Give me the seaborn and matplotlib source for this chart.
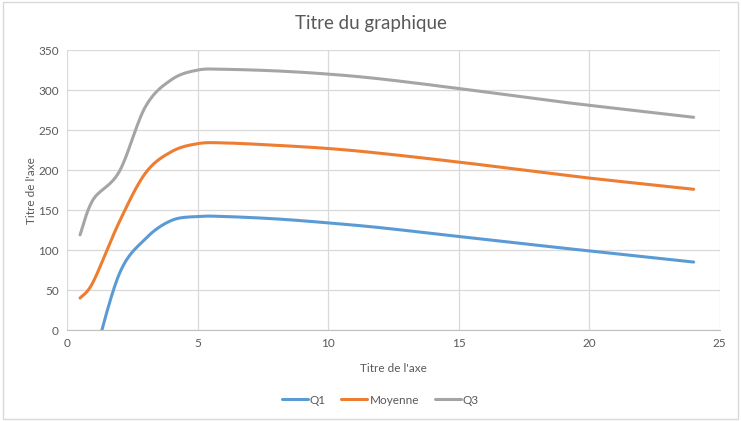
import numpy as np
import pandas as pd
import seaborn as sns
import matplotlib.pyplot as plt
from matplotlib.patches import Rectangle

## data
heures = [0.5, 1, 2, 3, 4, 5, 6, 8, 10, 12, 15, 18, 20, 24]
q1 = [None, -40, 70, 114, 137, 142, 142, 139, 134, 128, 117, 106, 99, 85]
moyenne = [40, 60, 135, 196, 223, 233, 234, 231, 227, 221, 210, 198, 190, 176]
q3 = [119, 163, 198, 279, 313, 325, 326, 324, 320, 314, 302, 289, 281, 266]

series_names = ["Q1", "Moyenne", "Q3"]
colors = ["#5B9BD5", "#ED7D31", "#A5A5A5"]


def smooth(x, y, n=30):
    # excel style smoothed line (catmull-rom bezier)
    x = np.asarray(x, float)
    y = np.asarray(y, float)
    px = np.concatenate([[x[0]], x, [x[-1]]])
    py = np.concatenate([[y[0]], y, [y[-1]]])
    xs, ys = [], []
    t = np.linspace(0, 1, n)
    for i in range(1, len(px) - 2):
        p0 = np.array([px[i], py[i]])
        p3 = np.array([px[i + 1], py[i + 1]])
        c1 = p0 + (np.array([px[i + 1], py[i + 1]]) - np.array([px[i - 1], py[i - 1]])) / 6
        c2 = p3 - (np.array([px[i + 2], py[i + 2]]) - np.array([px[i], py[i]])) / 6
        b = ((1 - t) ** 3)[:, None] * p0 + (3 * (1 - t) ** 2 * t)[:, None] * c1 \
            + (3 * (1 - t) * t ** 2)[:, None] * c2 + (t ** 3)[:, None] * p3
        xs.extend(b[:, 0])
        ys.extend(b[:, 1])
    return xs, ys


rows = []
for name, vals in zip(series_names, [q1, moyenne, q3]):
    pts = [(h, v) for h, v in zip(heures, vals) if v is not None]
    sx, sy = smooth([p[0] for p in pts], [p[1] for p in pts])
    for k, (a, b) in enumerate(zip(sx, sy)):
        rows.append({"x": a, "y": b, "serie": name, "ordre": k})
df = pd.DataFrame(rows)

sns.set_style("white")
plt.rcParams['font.family'] = ['Lato', 'DejaVu Sans']

fig = plt.figure(figsize=(7.41, 4.21), dpi=100)
ax = fig.add_axes([0.0904, 0.216, 0.881, 0.665])

sns.lineplot(data=df, x="x", y="y", hue="serie", hue_order=series_names,
             palette=colors, sort=False, estimator=None, units="serie",
             linewidth=2.2, ax=ax)

ax.set_xlim(0, 25)
ax.set_ylim(0, 350)
ax.set_xticks(range(0, 26, 5))
ax.set_yticks(range(0, 351, 50))
ax.grid(True, color="#D9D9D9", linewidth=0.9)
ax.set_axisbelow(True)
for s in ["top", "right", "left"]:
    ax.spines[s].set_visible(False)
ax.spines["bottom"].set_color("#BFBFBF")
ax.tick_params(axis="both", length=0, labelsize=8.5, colors="#595959", pad=6)

ax.set_xlabel("Titre de l'axe", fontsize=8.5, color="#595959", labelpad=10)
ax.set_ylabel("Titre de l'axe", fontsize=8.5, color="#595959", labelpad=1)
fig.text(0.5, 0.945, "Titre du graphique", ha="center", va="center",
         fontsize=13.5, color="#595959")

ax.legend(loc="center", bbox_to_anchor=(0.48, -0.25), ncol=3, frameon=False,
          fontsize=8.5, handlelength=2.2, columnspacing=1.3, handletextpad=0.2,
          labelcolor="#595959")

fig.patches.append(Rectangle((0.004, 0.005), 0.992, 0.99, transform=fig.transFigure,
                             fill=False, edgecolor="#D9D9D9", linewidth=1))

fig.savefig("out.png", dpi=100)
